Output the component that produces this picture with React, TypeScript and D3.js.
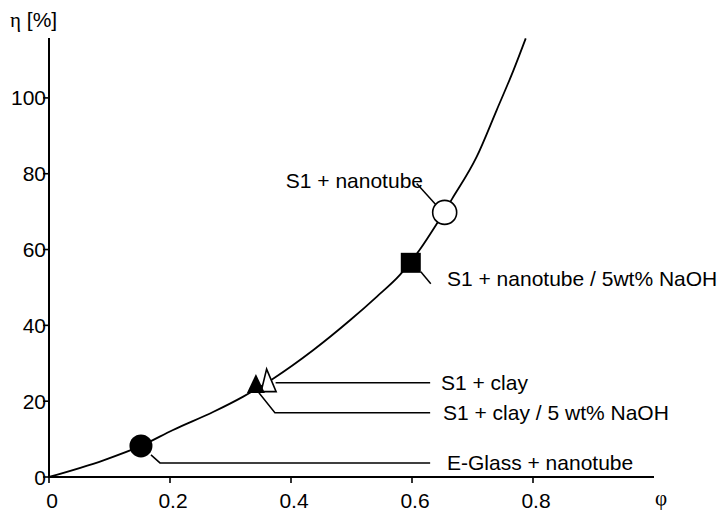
import React from 'react';
import * as d3 from 'd3';

// curve
const curvePhi = [0, 0.09, 0.152, 0.205, 0.272, 0.321, 0.371, 0.437, 0.498, 0.542, 0.58, 0.613, 0.641, 0.666, 0.707, 0.74, 0.768, 0.788];
const curveEta = [0, 4.4, 8.2, 12.4, 17.2, 21.2, 26, 33.5, 41.4, 47.6, 53.3, 60, 66.8, 73.3, 84.5, 96.8, 107.4, 115.7];

// labelled points
const pointNames = ['E-Glass + nanotube', 'S1 + clay', 'S1 + clay / 5 wt% NaOH', 'S1 + nanotube / 5wt% NaOH', 'S1 + nanotube'];
const pointPhi = [0.152, 0.363, 0.342, 0.598, 0.654];
const pointEta = [8.2, 24.5, 23.8, 56.5, 69.8];
const pointShape = ['circleFilled', 'triangleOpen', 'triangleFilled', 'squareFilled', 'circleOpen'];

const xTicks = [0, 0.2, 0.4, 0.6, 0.8];
const yTicks = [0, 20, 40, 60, 80, 100];

const W = 722;
const H = 513;
const font = '"Liberation Sans", Arial, sans-serif';

export default function App() {
  const x = d3.scaleLinear().domain([0, 1]).range([49, 654]);
  const y = d3.scaleLinear().domain([0, 115.8]).range([477, 38]);

  const line = d3.line<number>()
    .x((d, i) => x(curvePhi[i]))
    .y((d, i) => y(curveEta[i]))
    .curve(d3.curveMonotoneX);

  const leaderEnd = x(0.63);

  const marker = (i: number) => {
    const cx = x(pointPhi[i]);
    const cy = y(pointEta[i]);
    switch (pointShape[i]) {
      case 'circleFilled':
        return <circle key={i} cx={cx} cy={cy} r={11.5} fill="#000" />;
      case 'circleOpen':
        return <circle key={i} cx={cx} cy={cy} r={12} fill="#fff" stroke="#000" strokeWidth={1.6} />;
      case 'squareFilled':
        return <rect key={i} x={cx - 10} y={cy - 10} width={20} height={20} fill="#000" />;
      case 'triangleOpen':
        return <path key={i} d={`M${cx - 2},${cy - 15}L${cx + 7.5},${cy + 7.5}L${cx - 7.5},${cy + 7.5}Z`} fill="#fff" stroke="#000" strokeWidth={1.6} />;
      default:
        return <path key={i} d={`M${cx},${cy - 12.7}L${cx + 9},${cy + 6.3}L${cx - 9},${cy + 6.3}Z`} fill="#000" />;
    }
  };

  // annotation leaders, built from the marker positions
  const px = pointPhi.map(p => x(p));
  const py = pointEta.map(e => y(e));
  const leaders = [
    `M${px[0] + 10},${py[0] + 9}L${px[0] + 19},${py[0] + 17}L${leaderEnd},${py[0] + 17}`,
    `M${px[1] + 7},${py[1] - 1.3}L${leaderEnd},${py[1] - 1.3}`,
    `M${px[2] + 3},${py[2] + 6}L${px[2] + 19},${py[2] + 26}L${leaderEnd},${py[2] + 26}`,
    `M${px[3] + 10},${py[3] + 9}L${px[3] + 20},${py[3] + 21}`,
    `M${px[4] - 9},${py[4] - 8}L${px[4] - 28},${py[4] - 29}`,
  ];
  const labels = [
    { x: 447, y: py[0] + 17, anchor: 'start' },
    { x: 441, y: py[1] - 1.3, anchor: 'start' },
    { x: 443, y: py[2] + 26, anchor: 'start' },
    { x: 447, y: py[3] + 16, anchor: 'start' },
    { x: 423, y: py[4] - 32, anchor: 'end' },
  ];

  return (
    <div style={{ position: 'fixed', left: 0, top: 0, width: W, height: H, background: '#fff' }}>
      <svg width={W} height={H} style={{ display: 'block', fontFamily: font }}>
        <rect width={W} height={H} fill="#fff" />

        {/* axes */}
        <line x1={x(0)} x2={x(0)} y1={y(115.8)} y2={y(0) + 1} stroke="#000" strokeWidth={2} />
        <line x1={x(0) - 1} x2={x(1)} y1={y(0)} y2={y(0)} stroke="#000" strokeWidth={2} />
        {yTicks.map(t => (
          <g key={'y' + t}>
            <line x1={x(0) - 6} x2={x(0)} y1={y(t)} y2={y(t)} stroke="#000" strokeWidth={1.6} />
            <text x={x(0) - 3} y={y(t)} dy="0.36em" textAnchor="end" fontSize={21}>{t}</text>
          </g>
        ))}
        {xTicks.map(t => (
          <g key={'x' + t}>
            <line x1={x(t)} x2={x(t)} y1={y(0)} y2={y(0) + 6} stroke="#000" strokeWidth={1.6} />
            <text x={x(t) + 3} y={508} textAnchor="middle" fontSize={21}>{t === 0 ? '0' : t.toFixed(1)}</text>
          </g>
        ))}
        <text x={10} y={27} fontSize={21}>
          <tspan fontFamily='"Liberation Serif", serif'>η</tspan> [%]
        </text>
        <text x={655} y={505} fontSize={21} fontFamily='"Liberation Serif", serif'>φ</text>

        {/* curve */}
        <path d={line(curvePhi) || ''} fill="none" stroke="#000" strokeWidth={1.8} />

        {/* leaders and labels */}
        {leaders.map((d, i) => (
          <path key={'l' + i} d={d} fill="none" stroke="#000" strokeWidth={1.5} />
        ))}
        {labels.map((l, i) => (
          <text key={'t' + i} x={l.x} y={l.y} dy="0.36em" textAnchor={l.anchor} fontSize={21}>{pointNames[i]}</text>
        ))}

        {/* markers */}
        {[1, 2, 0, 3, 4].map(i => marker(i))}
      </svg>
    </div>
  );
}
